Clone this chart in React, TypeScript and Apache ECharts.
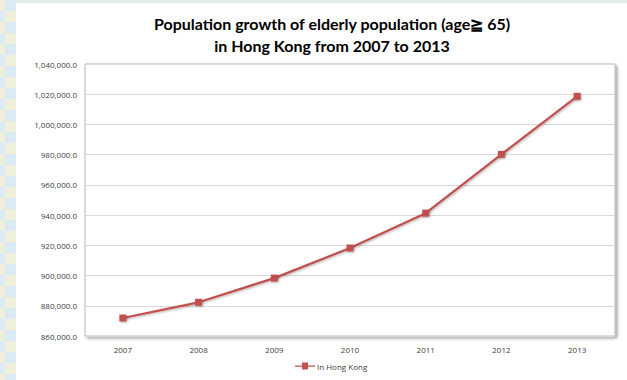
import React, { useEffect, useRef } from "react";
import * as echarts from "echarts";

const years = ["2007", "2008", "2009", "2010", "2011", "2012", "2013"];
const elderly = [871900, 882300, 898300, 918200, 941300, 980200, 1018600];
const seriesName = "In Hong Kong";
const titleLines = ["Population growth of elderly population (age\u2267 65)", "in Hong Kong from 2007 to 2013"];

export default function App() {
  const ref = useRef<HTMLDivElement>(null);
  useEffect(() => {
    if (!ref.current) return;
    const chart = echarts.init(ref.current, undefined, { renderer: "svg" });
    chart.setOption({
      animation: false,
      backgroundColor: "transparent",
      title: {
        text: titleLines.join("\n"),
        left: 327,
        textAlign: "center",
        top: 7,
        textStyle: {
          fontFamily: "Lato",
          fontSize: 16,
          fontWeight: "bold",
          color: "#000",
          lineHeight: 22,
        },
      },
      legend: {
        bottom: 5,
        left: 290,
        itemWidth: 20,
        itemHeight: 7,
        itemGap: 2,
        textStyle: { fontFamily: "Open Sans", fontSize: 8, color: "#404040", padding: [0, 0, 0, -3] },
        data: [{ name: seriesName, icon: "path://M0,3 L7,3 L7,0 L13,0 L13,3 L20,3 L20,4.2 L13,4.2 L13,7 L7,7 L7,4.2 L0,4.2 Z" }],
      },
      grid: {
        left: 85,
        right: 12,
        top: 64,
        bottom: 44,
        show: true,
        backgroundColor: "#fff",
        borderColor: "#b8b8b8",
        borderWidth: 1,
        shadowColor: "rgba(0,0,0,0.35)",
        shadowBlur: 3,
        shadowOffsetX: 2,
        shadowOffsetY: 2,
      },
      xAxis: {
        type: "category",
        data: years,
        boundaryGap: true,
        axisLine: { show: false },
        axisTick: { show: false },
        axisLabel: { fontFamily: "Open Sans", fontSize: 8, color: "#404040", margin: 9 },
      },
      yAxis: {
        type: "value",
        min: 860000,
        max: 1040000,
        interval: 20000,
        axisLine: { show: false },
        axisTick: { show: false },
        splitLine: { lineStyle: { color: "#d9d9d9", width: 1 } },
        axisLabel: {
          fontFamily: "Open Sans",
          fontSize: 8,
          color: "#404040",
          margin: 8,
          formatter: (v: number) =>
            v.toLocaleString("en-US", { minimumFractionDigits: 1, maximumFractionDigits: 1 }),
        },
      },
      series: [
        {
          name: seriesName,
          type: "line",
          data: elderly,
          symbol: "rect",
          symbolSize: 7,
          lineStyle: {
            color: "#c0504d",
            width: 2.2,
            shadowColor: "rgba(0,0,0,0.3)",
            shadowBlur: 2,
            shadowOffsetX: 1,
            shadowOffsetY: 1,
          },
          itemStyle: {
            color: "#c0504d",
            borderWidth: 0,
            shadowColor: "rgba(0,0,0,0.3)",
            shadowBlur: 2,
            shadowOffsetX: 1,
            shadowOffsetY: 1,
          },
        },
      ],
    });
    return () => chart.dispose();
  }, []);

  const strip =
    "repeating-linear-gradient(180deg, #dcebf3 0px, #dcebf3 11px, #eef0dc 11px, #eef0dc 22px)";
  const strip2 =
    "repeating-linear-gradient(180deg, #eef0dc 0px, #eef0dc 11px, #dcebf3 11px, #dcebf3 22px)";
  return (
    <div style={{ position: "fixed", left: 0, top: 0, width: 627, height: 380, background: "#fff", overflow: "hidden" }}>
      <div style={{ position: "absolute", left: 0, top: 0, width: 627, height: 3, background: "#e4eee9" }} />
      <div style={{ position: "absolute", left: 0, top: 0, width: 5, height: 380, background: strip2 }} />
      <div style={{ position: "absolute", left: 5, top: 0, width: 11, height: 380, background: strip }} />
      <div ref={ref} style={{ position: "absolute", left: 0, top: 0, width: 627, height: 380 }} />
    </div>
  );
}
